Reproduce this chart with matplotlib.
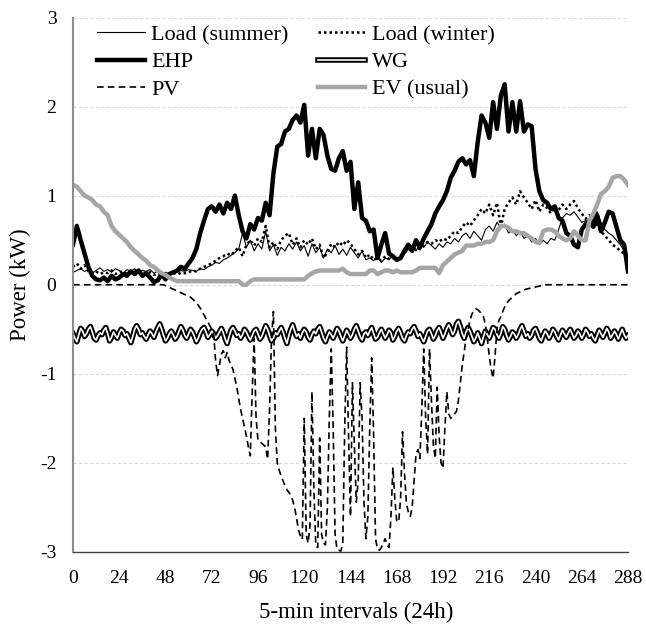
import numpy as np
import matplotlib
matplotlib.use("Agg")
import matplotlib.pyplot as plt

plt.rcParams['font.family'] = ['Liberation Serif', 'DejaVu Serif']
plt.rcParams['axes.unicode_minus'] = False

# 5-min interval index: coarse series every 2 intervals, fine series every interval
t2 = np.arange(0, 289, 2)
t1 = np.arange(0, 289)

load_summer = [
    0.14, 0.16, 0.18, 0.15, 0.17, 0.13, 0.16, 0.19, 0.15, 0.17, 0.14, 0.18,
    0.16, 0.13, 0.17, 0.15, 0.18, 0.14, 0.16, 0.15, 0.17, 0.13, 0.15, 0.12,
    0.14, 0.12, 0.15, 0.14, 0.16, 0.15, 0.17, 0.16, 0.15, 0.18, 0.17, 0.20,
    0.22, 0.25, 0.24, 0.28, 0.30, 0.33, 0.36, 0.40, 0.58, 0.42, 0.50, 0.38,
    0.46, 0.40, 0.60, 0.38, 0.45, 0.33, 0.42, 0.38, 0.46, 0.40, 0.48, 0.38,
    0.44, 0.32, 0.46, 0.36, 0.42, 0.30, 0.40, 0.36, 0.44, 0.34, 0.40, 0.33,
    0.42, 0.36, 0.30, 0.38, 0.28, 0.30, 0.27, 0.32, 0.25, 0.30, 0.28, 0.33,
    0.26, 0.30, 0.35, 0.40, 0.44, 0.38, 0.46, 0.42, 0.48, 0.44, 0.40, 0.46,
    0.42, 0.48, 0.46, 0.52, 0.48, 0.55, 0.58, 0.52, 0.60, 0.55, 0.50, 0.62,
    0.66, 0.60, 0.70, 0.64, 0.68, 0.58, 0.62, 0.55, 0.60, 0.52, 0.55, 0.48,
    0.52, 0.45, 0.50, 0.46, 0.52, 0.50, 0.62, 0.75, 0.80, 0.78, 0.82, 0.76,
    0.70, 0.72, 0.68, 0.75, 0.82, 0.70, 0.62, 0.58, 0.55, 0.50, 0.45, 0.38,
    0.33,
]

load_winter = [
    0.20, 0.24, 0.18, 0.22, 0.15, 0.13, 0.15, 0.12, 0.14, 0.13, 0.16, 0.12,
    0.14, 0.15, 0.12, 0.14, 0.16, 0.13, 0.15, 0.12, 0.14, 0.11, 0.13, 0.12,
    0.10, 0.13, 0.12, 0.14, 0.12, 0.13, 0.14, 0.16, 0.15, 0.18, 0.20, 0.22,
    0.24, 0.27, 0.30, 0.32, 0.35, 0.33, 0.38, 0.42, 0.32, 0.45, 0.50, 0.44,
    0.52, 0.48, 0.66, 0.42, 0.48, 0.40, 0.50, 0.55, 0.58, 0.45, 0.52, 0.42,
    0.50, 0.45, 0.52, 0.40, 0.45, 0.30, 0.36, 0.46, 0.42, 0.48, 0.44, 0.50,
    0.46, 0.40, 0.34, 0.38, 0.30, 0.34, 0.28, 0.30, 0.27, 0.32, 0.29, 0.30,
    0.27, 0.32, 0.36, 0.40, 0.38, 0.42, 0.40, 0.44, 0.48, 0.46, 0.50, 0.48,
    0.52, 0.50, 0.55, 0.60, 0.58, 0.65, 0.70, 0.66, 0.72, 0.78, 0.85, 0.80,
    0.90, 0.78, 0.92, 0.65, 0.85, 0.92, 0.98, 0.90, 1.05, 0.98, 0.92, 0.85,
    0.95, 0.82, 0.90, 0.86, 0.80, 0.88, 0.84, 0.90, 0.85, 0.90, 0.94, 0.86,
    0.80, 0.74, 0.78, 0.72, 0.65, 0.60, 0.55, 0.50, 0.45, 0.42, 0.38, 0.35,
    0.33,
]

ehp = [
    0.45, 0.66, 0.50, 0.35, 0.20, 0.10, 0.06, 0.05, 0.08, 0.04, 0.10, 0.06,
    0.08, 0.12, 0.10, 0.15, 0.12, 0.16, 0.10, 0.13, 0.08, 0.03, 0.05, 0.12,
    0.06, 0.12, 0.14, 0.16, 0.20, 0.18, 0.24, 0.30, 0.40, 0.58, 0.72, 0.85,
    0.88, 0.82, 0.90, 0.80, 0.92, 0.85, 1.00, 0.78, 0.60, 0.52, 0.68, 0.62,
    0.75, 0.72, 0.92, 0.78, 1.25, 1.55, 1.58, 1.72, 1.75, 1.85, 1.90, 1.82,
    2.02, 1.45, 1.75, 1.42, 1.75, 1.68, 1.45, 1.30, 1.28, 1.42, 1.50, 1.28,
    1.38, 0.85, 1.15, 0.75, 0.72, 0.60, 0.62, 0.30, 0.45, 0.58, 0.35, 0.32,
    0.28, 0.30, 0.38, 0.45, 0.38, 0.50, 0.42, 0.52, 0.60, 0.68, 0.80, 0.88,
    0.95, 1.05, 1.20, 1.28, 1.38, 1.42, 1.35, 1.40, 1.22, 1.60, 1.90, 1.82,
    1.65, 2.05, 1.75, 2.12, 2.25, 1.72, 2.05, 1.72, 2.06, 1.72, 1.80, 1.78,
    1.30, 1.05, 0.95, 0.92, 0.85, 0.88, 0.75, 0.72, 0.58, 0.55, 0.45, 0.42,
    0.62, 0.68, 0.72, 0.65, 0.78, 0.60, 0.70, 0.82, 0.80, 0.65, 0.50, 0.45,
    0.15,
]

ev_usual = [
    1.12, 1.10, 1.05, 1.00, 0.98, 0.95, 0.90, 0.88, 0.82, 0.78, 0.66, 0.60,
    0.56, 0.52, 0.48, 0.42, 0.38, 0.34, 0.30, 0.27, 0.22, 0.20, 0.16, 0.13,
    0.11, 0.08, 0.06, 0.04, 0.04, 0.04, 0.04, 0.04, 0.04, 0.04, 0.04, 0.04,
    0.04, 0.04, 0.04, 0.04, 0.04, 0.04, 0.04, 0.04, 0.00, 0.00, 0.04, 0.06,
    0.06, 0.06, 0.06, 0.06, 0.06, 0.06, 0.06, 0.06, 0.06, 0.06, 0.06, 0.06,
    0.06, 0.10, 0.13, 0.15, 0.16, 0.16, 0.16, 0.16, 0.16, 0.16, 0.18, 0.14,
    0.12, 0.12, 0.12, 0.12, 0.12, 0.16, 0.16, 0.12, 0.14, 0.16, 0.16, 0.14,
    0.16, 0.14, 0.14, 0.14, 0.14, 0.16, 0.19, 0.19, 0.19, 0.19, 0.19, 0.13,
    0.22, 0.26, 0.30, 0.34, 0.36, 0.38, 0.44, 0.44, 0.44, 0.46, 0.46, 0.48,
    0.48, 0.50, 0.60, 0.66, 0.66, 0.64, 0.60, 0.60, 0.58, 0.58, 0.55, 0.52,
    0.48, 0.47, 0.60, 0.62, 0.62, 0.60, 0.55, 0.52, 0.50, 0.52, 0.60, 0.55,
    0.50, 0.50, 0.72, 0.80, 0.90, 1.02, 1.05, 1.10, 1.20, 1.22, 1.22, 1.18,
    1.12,
]

wg = [
    -0.55, -0.60, -0.64, -0.56, -0.49, -0.52, -0.58, -0.55, -0.50, -0.47, -0.53, -0.60,
    -0.62, -0.57, -0.54, -0.56, -0.51, -0.48, -0.55, -0.63, -0.59, -0.53, -0.57, -0.60,
    -0.54, -0.50, -0.52, -0.57, -0.55, -0.60, -0.65, -0.58, -0.50, -0.46, -0.50, -0.56,
    -0.54, -0.58, -0.61, -0.56, -0.52, -0.55, -0.59, -0.53, -0.48, -0.44, -0.50, -0.57,
    -0.63, -0.60, -0.55, -0.52, -0.56, -0.61, -0.58, -0.52, -0.47, -0.51, -0.57, -0.60,
    -0.55, -0.50, -0.53, -0.58, -0.64, -0.60, -0.54, -0.50, -0.48, -0.53, -0.59, -0.56,
    -0.52, -0.55, -0.60, -0.57, -0.53, -0.49, -0.54, -0.61, -0.66, -0.58, -0.51, -0.48,
    -0.52, -0.57, -0.55, -0.60, -0.56, -0.50, -0.53, -0.58, -0.62, -0.57, -0.52, -0.50,
    -0.55, -0.61, -0.58, -0.52, -0.46, -0.50, -0.57, -0.63, -0.60, -0.54, -0.56, -0.52,
    -0.48, -0.53, -0.60, -0.66, -0.57, -0.50, -0.45, -0.52, -0.58, -0.55, -0.60, -0.54,
    -0.50, -0.53, -0.59, -0.62, -0.56, -0.52, -0.55, -0.50, -0.47, -0.53, -0.60, -0.64,
    -0.58, -0.53, -0.56, -0.60, -0.55, -0.49, -0.52, -0.58, -0.63, -0.57, -0.51, -0.55,
    -0.60, -0.56, -0.50, -0.46, -0.52, -0.58, -0.62, -0.55, -0.53, -0.57, -0.52, -0.48,
    -0.55, -0.61, -0.59, -0.54, -0.50, -0.55, -0.60, -0.56, -0.51, -0.54, -0.62, -0.58,
    -0.52, -0.49, -0.54, -0.60, -0.63, -0.57, -0.53, -0.55, -0.50, -0.47, -0.52, -0.58,
    -0.55, -0.60, -0.64, -0.58, -0.52, -0.50, -0.55, -0.61, -0.57, -0.51, -0.48, -0.54,
    -0.60, -0.55, -0.49, -0.45, -0.50, -0.56, -0.52, -0.44, -0.41, -0.47, -0.55, -0.60,
    -0.53, -0.48, -0.52, -0.58, -0.64, -0.60, -0.54, -0.60, -0.66, -0.58, -0.52, -0.56,
    -0.60, -0.54, -0.48, -0.50, -0.56, -0.60, -0.55, -0.47, -0.50, -0.57, -0.62, -0.58,
    -0.53, -0.55, -0.60, -0.56, -0.50, -0.46, -0.52, -0.58, -0.55, -0.60, -0.57, -0.51,
    -0.49, -0.54, -0.60, -0.63, -0.57, -0.52, -0.55, -0.60, -0.56, -0.50, -0.53, -0.58,
    -0.62, -0.56, -0.51, -0.55, -0.59, -0.54, -0.50, -0.55, -0.60, -0.57, -0.52, -0.55,
    -0.60, -0.56, -0.50, -0.53, -0.58, -0.55, -0.60, -0.63, -0.57, -0.51, -0.55, -0.59,
    -0.54, -0.49, -0.53, -0.60, -0.56, -0.52, -0.56, -0.61, -0.55, -0.50, -0.56, -0.60,
    -0.57,
]

# PV output per interval: night zeros, then the daytime profile (k = 48..245)
pv_day = [
    # 48
    -0.01, -0.02, -0.03, -0.04, -0.05, -0.06, -0.07, -0.08, -0.09, -0.10,
    # 58
    -0.11, -0.12, -0.13, -0.14, -0.16, -0.18, -0.20, -0.23, -0.26, -0.30,
    # 68
    -0.34, -0.38, -0.42, -0.46, -0.50, -0.55, -0.85, -1.02, -0.90, -0.78,
    # 78
    -0.74, -0.82, -0.76, -0.85, -0.90, -0.95, -1.05, -1.15, -1.28, -1.40,
    # 88
    -1.50, -1.60, -1.70, -1.82, -1.92, -1.20, -0.60, -1.50, -1.75, -1.76,
    # 98
    -1.78, -1.80, -1.82, -1.96, -1.40, -0.60, -0.30, -1.60, -2.00, -2.08,
    # 108
    -2.15, -2.20, -2.26, -2.30, -2.33, -2.36, -2.42, -2.50, -2.62, -2.75,
    # 118
    -2.82, -2.86, -1.50, -2.80, -2.90, -2.70, -1.20, -2.30, -2.93, -2.95,
    # 128
    -1.72, -2.80, -2.90, -2.92, -2.50, -1.50, -0.72, -1.60, -2.80, -2.97,
    # 138
    -2.98, -2.99, -2.90, -1.60, -0.70, -1.70, -2.60, -1.10, -1.80, -2.44,
    # 148
    -2.20, -1.10, -1.50, -2.44, -2.85, -2.60, -1.60, -0.82, -1.70, -2.85,
    # 158
    -2.97, -2.98, -2.95, -2.90, -2.85, -2.92, -2.95, -2.60, -2.05, -2.40,
    # 168
    -2.66, -2.66, -2.40, -1.65, -2.10, -2.45, -2.55, -2.60, -2.50, -2.20,
    # 178
    -1.90, -1.85, -1.95, -1.40, -0.72, -1.50, -1.90, -0.72, -1.30, -1.80,
    # 188
    -1.95, -1.15, -1.70, -2.00, -2.06, -1.60, -1.20, -1.45, -1.50, -1.48,
    # 198
    -1.45, -1.42, -1.30, -1.10, -0.90, -0.75, -0.60, -0.50, -0.40, -0.33,
    # 208
    -0.29, -0.27, -0.28, -0.30, -0.33, -0.36, -0.45, -0.60, -0.80, -0.95,
    # 218
    -1.05, -0.80, -0.50, -0.40, -0.36, -0.30, -0.25, -0.21, -0.18, -0.16,
    # 228
    -0.14, -0.12, -0.10, -0.09, -0.08, -0.07, -0.06, -0.05, -0.045, -0.04,
    # 238
    -0.035, -0.03, -0.025, -0.02, -0.015, -0.01, -0.005, 0.0,
]
pv = [0.0] * 48 + pv_day + [0.0] * (289 - 48 - len(pv_day))

W, H = 646, 630
fig = plt.figure(figsize=(W / 100, H / 100), dpi=100)
ax = fig.add_axes([73 / W, 1 - 552 / H, 555 / W, 534.5 / H])

l_sum, = ax.plot(t2, load_summer, color='black', lw=0.8)
l_win, = ax.plot(t2, load_winter, color='black', lw=1.8, linestyle=(0, (1, 1.2)))
l_ehp, = ax.plot(t2, ehp, color='black', lw=3.2, solid_joinstyle='round')
l_wg_o, = ax.plot(t1, wg, color='black', lw=4.0, solid_joinstyle='round')
l_wg_i, = ax.plot(t1, wg, color='white', lw=1.2, solid_joinstyle='round')
l_pv, = ax.plot(t1, pv, color='black', lw=1.2, linestyle=(0, (4, 2.5)))
l_ev, = ax.plot(t2, ev_usual, color='#a6a6a6', lw=3.2, solid_joinstyle='round')

ax.set_xlim(0, 288)
ax.set_ylim(-3, 3)
ax.set_xticks(np.arange(0, 289, 24))
ax.set_yticks(np.arange(-3, 4, 1))
ax.yaxis.grid(True, color='#d9d9d9', lw=0.8, linestyle=(0, (3, 2)))
ax.set_axisbelow(True)

for side in ('top', 'right'):
    ax.spines[side].set_visible(False)
ax.spines['left'].set_color('#8c8c8c')
ax.spines['left'].set_linewidth(1.5)
ax.spines['bottom'].set_color('#404040')
ax.spines['bottom'].set_linewidth(1.0)
ax.tick_params(axis='both', length=0, labelsize=14)
ax.tick_params(axis='y', pad=12)
ax.tick_params(axis='x', pad=13)

ax.set_xlabel('5-min intervals (24h)', fontsize=16.5)
ax.xaxis.set_label_coords(0.51, -0.093)
ax.set_ylabel('Power (kW)', fontsize=16.5, labelpad=6)

handles = [l_sum, l_ehp, l_pv, l_win, (l_wg_o, l_wg_i), l_ev]
labels = ['Load (summer)', 'EHP', 'PV', 'Load (winter)', 'WG', 'EV (usual)']
ax.legend(handles, labels, ncol=2, loc='upper left', bbox_to_anchor=(0.035, 0.995),
          frameon=False, fontsize=16, handlelength=2.15, handletextpad=0.3,
          columnspacing=1.3, labelspacing=0.3, borderaxespad=0.0, borderpad=0.2)

fig.savefig('out.png', dpi=100)
